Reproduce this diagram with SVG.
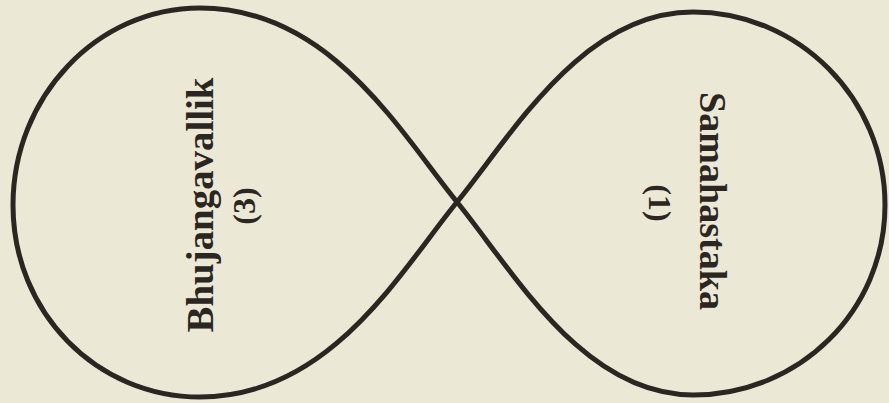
<svg xmlns="http://www.w3.org/2000/svg" width="889" height="403" viewBox="0 0 889 403">
  <style>
    .bg { fill: #ece8d6; }
    .curve { fill: none; stroke: #2b2621; stroke-width: 5; stroke-linejoin: round; }
    .lbl { font-family: "Liberation Serif", "DejaVu Serif", serif; font-weight: bold; fill: #2b2621; text-anchor: middle; }
    .big { font-size: 37px; }
    .num { font-size: 32px; }
  </style>
  <rect class="bg" x="0" y="0" width="889" height="403"/>
  <g id="connectors">
    <path class="curve" d="M457,202 C400,132 330,8 200,8 C97,8 13,97 13,205 C13,313 97,397 200,397 C330,397 400,272 457,202 C514,132 583,12 693,12 C799,12 885,99 885,205 C885,311 799,395 693,395 C583,395 514,272 457,202 Z"/>
  </g>
  <g id="node-bhujangavallik">
    <text class="lbl big" x="213" y="205" transform="rotate(-90 213 205)" textLength="255" lengthAdjust="spacingAndGlyphs">Bhujangavallik</text>
    <text class="lbl num" x="255" y="206" transform="rotate(-90 255 206)">(3)</text>
  </g>
  <g id="node-samahastaka">
    <text class="lbl big" x="700" y="201" transform="rotate(90 700 201)" textLength="218" lengthAdjust="spacingAndGlyphs">Samahastaka</text>
    <text class="lbl num" x="649" y="203" transform="rotate(90 649 203)">(1)</text>
  </g>
</svg>
